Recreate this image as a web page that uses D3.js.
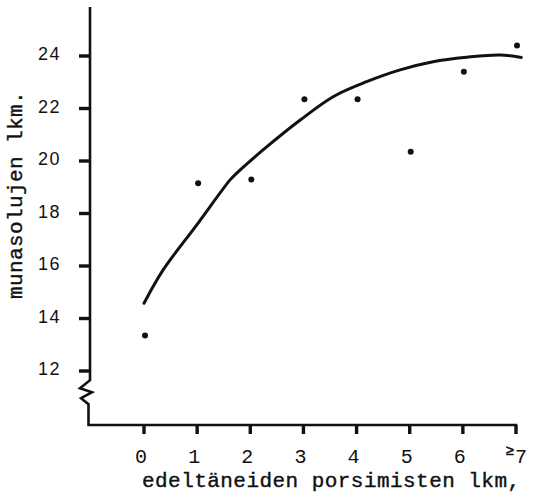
<!DOCTYPE html>
<html>
<head>
<meta charset="utf-8">
<script src="https://cdn.jsdelivr.net/npm/d3@7"></script>
<style>
  html, body { margin: 0; padding: 0; background: #fff; }
  svg { display: block; }
</style>
</head>
<body>
<svg id="chart" width="539" height="498"></svg>
<script>
// Number of previous farrowings (x) vs. number of ova (y)
const categories = [0, 1, 2, 3, 4, 5, 6, 7];
const xTickLabels = ["0", "1", "2", "3", "4", "5", "6", "7"];
const ovaCounts = [13.35, 19.15, 19.3, 22.35, 22.35, 20.35, 23.4, 24.4];

// Fitted trend curve
const fitX = [0, 0.36, 0.99, 1.62, 1.74, 2.24, 2.94, 3.56, 4.19, 4.82, 5.44, 6.07, 6.7, 7.1];
const fitY = [14.58, 15.85, 17.56, 19.28, 19.53, 20.42, 21.56, 22.45, 23.02, 23.47, 23.78, 23.95, 24.04, 23.94];

const yTicks = [12, 14, 16, 18, 20, 22, 24];

const svg = d3.select("#chart");
const ink = "#111";
const mono = "'Liberation Mono', 'Courier New', monospace";

const x = d3.scaleLinear().domain([0, 7]).range([144, 516]);
const y = d3.scaleLinear().domain([12, 24]).range([371, 56]);

const axisX0 = 90;      // position of vertical axis
const axisY0 = 425;     // position of horizontal axis

// axes and the y-axis break
const axes = d3.path();
axes.moveTo(axisX0, y(25.87));
axes.lineTo(axisX0, y(11.65));
axes.lineTo(axisX0 - 10, y(11.65) + 8);
axes.lineTo(axisX0 + 2, y(11.65) + 12);
axes.lineTo(axisX0 - 9, y(11.65) + 18);
axes.lineTo(axisX0 - 1.5, y(11.65) + 24);
axes.lineTo(axisX0 - 1.5, axisY0);
axes.moveTo(axisX0 - 2.8, axisY0);
axes.lineTo(x(7) + 1.3, axisY0);
svg.append("path")
  .attr("d", axes.toString())
  .attr("fill", "none")
  .attr("stroke", ink)
  .attr("stroke-width", 2.6)
  .attr("stroke-linejoin", "miter");

// tick marks
svg.append("g").selectAll("rect")
  .data(yTicks)
  .join("rect")
  .attr("x", axisX0 - 11).attr("width", 11)
  .attr("y", (d) => y(d) - 1.7).attr("height", 3.4)
  .attr("fill", ink);
svg.append("g").selectAll("rect")
  .data(categories)
  .join("rect")
  .attr("x", (d) => x(d) - 1.7).attr("width", 3.4)
  .attr("y", axisY0).attr("height", 9)
  .attr("fill", ink);

// y tick labels
svg.append("g").selectAll("text")
  .data(yTicks)
  .join("text")
  .attr("x", 61)
  .attr("y", (d) => y(d) - 2)
  .attr("dy", "0.35em")
  .attr("text-anchor", "end")
  .attr("fill", ink)
  .style("font-family", "'Liberation Sans', Arial, sans-serif")
  .style("font-size", "18px")
  .style("letter-spacing", "1.5px")
  .text((d) => d);

// x tick labels
svg.append("g").selectAll("text")
  .data(categories)
  .join("text")
  .attr("x", (d) => (d === 7 ? x(d) + 5 : x(d) - 3))
  .attr("y", 463)
  .attr("text-anchor", "middle")
  .attr("fill", ink)
  .style("font-family", mono)
  .style("font-size", "20px")
  .text((d, i) => xTickLabels[i]);

// "≥" sign for the last category
svg.append("text")
  .attr("x", x(7) - 6)
  .attr("y", 455)
  .attr("text-anchor", "middle")
  .attr("fill", ink)
  .attr("stroke", ink).attr("stroke-width", 0.6)
  .style("font-family", "'Liberation Sans', Arial, sans-serif")
  .style("font-size", "14px")
  .text("≥");

// fitted curve
const line = d3.line()
  .x((d) => x(d[0]))
  .y((d) => y(d[1]))
  .curve(d3.curveCatmullRom.alpha(0.5));
svg.append("path")
  .datum(fitX.map((v, i) => [v, fitY[i]]))
  .attr("d", line)
  .attr("fill", "none")
  .attr("stroke", ink)
  .attr("stroke-width", 3)
  .attr("stroke-linecap", "round");

// observed means
svg.append("g").selectAll("circle")
  .data(categories.map((c, i) => [c, ovaCounts[i]]))
  .join("circle")
  .attr("cx", (d) => x(d[0]) + 1)
  .attr("cy", (d) => y(d[1]))
  .attr("r", 3)
  .attr("fill", ink);

// axis titles
svg.append("text")
  .attr("x", 142).attr("y", 487)
  .attr("fill", ink)
  .attr("stroke", ink).attr("stroke-width", 0.4)
  .style("font-family", mono)
  .style("font-size", "21px")
  .style("letter-spacing", "0.45px")
  .text("edeltäneiden porsimisten lkm,");

svg.append("text")
  .attr("transform", "translate(22,195) rotate(-90)")
  .attr("text-anchor", "middle")
  .attr("fill", ink)
  .attr("stroke", ink).attr("stroke-width", 0.4)
  .style("font-family", mono)
  .style("font-size", "21px")
  .style("letter-spacing", "0.4px")
  .text("munasolujen lkm.");
</script>
</body>
</html>
